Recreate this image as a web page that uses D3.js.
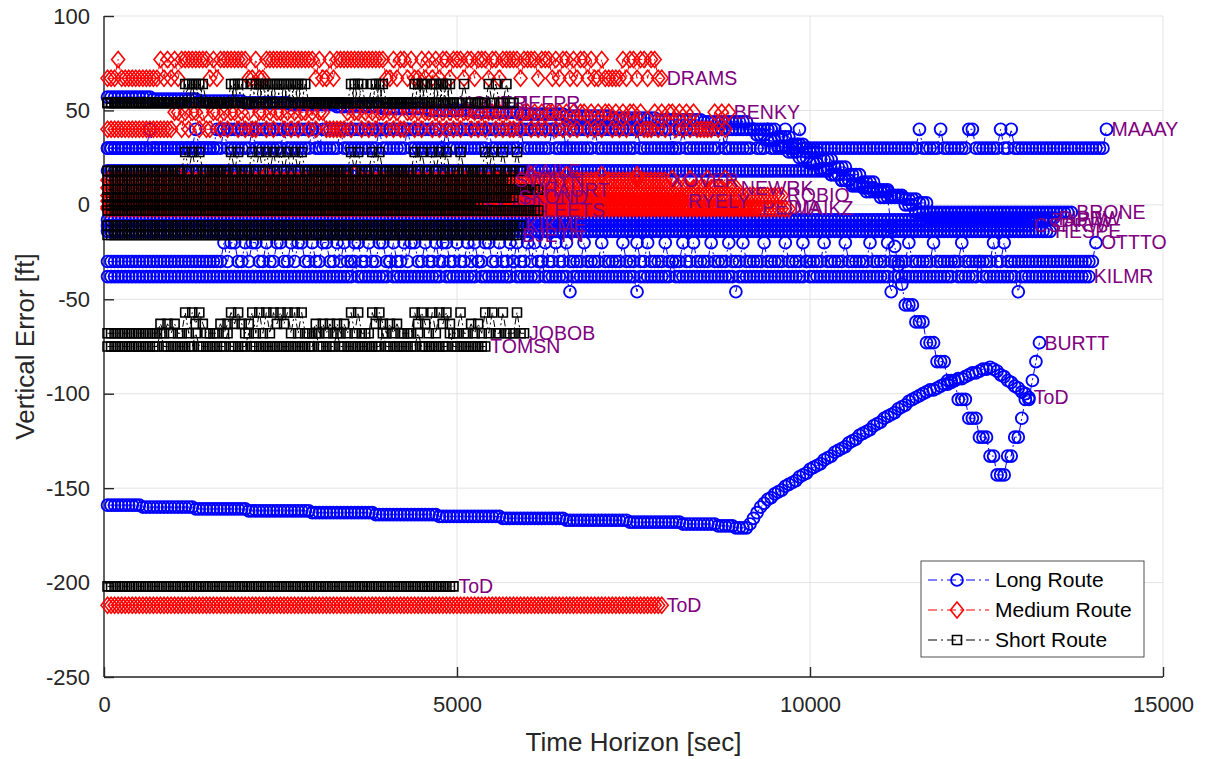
<!DOCTYPE html>
<html><head><meta charset="utf-8">
<script src="https://cdn.jsdelivr.net/npm/d3@7"></script>
<style>
body{margin:0;background:#fff}
svg{display:block}
text{font-family:"Liberation Sans",Arial,Helvetica,sans-serif}
</style>
</head><body>
<svg id="chart" width="1206" height="759"></svg>
<script>
// ---------------- DATA ----------------
const STEP = 50, T0 = 50;            // seconds between samples, first sample time
const xTicks = [0, 5000, 10000, 15000];
const yTicks = [100, 50, 0, -50, -100, -150, -200, -250];
const routeNames = ["Long Route", "Medium Route", "Short Route"];

// Long route (runs = [value, count], spikes = [index, value])
const longMAAAYRuns = [[30,284]];
const longMAAAYSpikes = [[12,40],[25,40],[33,40],[41,40],[50,40],[58,40],[66,40],[77,40],[85,40],[96,40],[108,40],[117,40],[126,40],[138,40],[150,40],[163,40],[174,40],[183,40],[187,40],[192,40],[196,40],[230,40],[236,40],[244,40],[245,40],[253,40],[256,40],[283,40]];
const longBURTTRuns = [[57,13],[56,13],[55,13],[54,13],[53,13],[52,13],[51,13],[50,13],[49,13],[48,13],[47,13],[46,13],[45,13],[44,13],
  [40,2],[37,3],[34,3],[31,3],[28,3],[25,3],[22,3],[19,3],[16,3],[13,3],[10,4],[7,4],[4,3],
  [-12,1],[-22,1],[-32,1],[-42,1],[-53,3],[-62,3],[-73,3],[-83,3],[-93,3],[-103,3],[-113,3],[-123,3],[-133,2],[-143,3],
  [-133,2],[-123,2],[-113,1],[-103,2],[-93,1],[-83,1],[-73,1]];
const longBRONERuns = [[30,31],[40,159],[36,4],[32,4],[28,4],[24,4],[20,4],[16,4],[12,4],[8,4],[4,4],[0,3],[-4,45]];
const longBRONESpikes = [[60,30],[95,30],[130,30],[160,30],[175,30]];
const longPIPBWRuns = [[18,205],[16,3],[13,3],[11,3],[9,4],[7,4],[5,4],[3,4],[1,3],[-7,36]];
const longZAPIWRuns = [[-8,267]];
const longCSPRWRuns = [[-11,262]];
const longHESPERuns = [[-14,268]];
const longOTTTORuns = [[-30,281]];
const longOTTTOSpikeIdx = [33,35,36,39,41,42,45,48,49,52,54,55,58,61,62,65,67,70,71,74,77,78,81,84,86,87,90,93,95,96,99,102,104,107,108,111,114,116,119,121,124,127,130,135,140,146,150,153,158,163,166,171,176,180,186,192,197,203,209,216,221,227,234,242,251,254,280];
const longKILMRRuns = [[-38,279]];
const longKILMRSpikes = [[70,-30],[80,-30],[95,-30],[105,-30],[115,-30],[123,-30],[131,-46],[150,-46],[160,-30],[178,-46],[198,-30],[222,-46],[240,-30],[247,-30],[258,-46]];
const longToDRuns = [[-159,10],[-160,15],[-161,15],[-162,18],[-163,18],[-164,18],[-165,18],[-166,18],[-167,18],[-168,15],[-169,10],[-170,5],[-171,4]];
const longToDRise = [-169,-166,-163,-160,-158,-156,-155,-153,-152,-151,-149,-148,-147,-146,-144,-143,-142,-140,-139,-138,-137,-135,-134,-133,-131,-130,-129,-128,-126,-125,-124,-122,-121,-120,-119,-117,-116,-115,-113,-112,-111,-110,-108,-107,-106,-104,-103,-102,-101,-100,
  -99,-98,-98,-97,-96,-95,-95,-94,-93,-92,-92,-91,-90,-89,-89,-88,-87,-87,-86,
  -87,-88,-90,-91,-93,-94,-96,-97,-99,-100,-102];

// Medium route
const medDRAMSLevels = {L:67, H:77};
const medDRAMSPattern = ["LLLHLLLLLLLLLLL","HLHLHLH","HHHHHHH","LHL","HHHHHHHH","LLHLL","HHHHHHHHHHHHHH","LHLLHL","HHHHHHHHHHHHHH","LLHL","HH","LHLLHLHL","HLHHLHHHLHHLHHHLHHLH","HHHHLHHHHLHHH","LHLHHLHLHHLHLLHL","LLLL","HLHHLHHLHHLL"].join("");
const medBENKYLevels = {L:40, H:49};
const medBENKYPattern = ["LLLLLLLLLLLLLLLLLLL","HHLHLHHLHLLHHLHLHHLHLHLLHHLHLHHLHLHLHHLHLHHL","LLLLL","HLHHLHLHLHHLHLHLLHHLHLHHLHLHLH","LHLHHLHLHLHHLHLHLLHLHHLHLHLHHLH","L","HLHLHHLHLHLHHLHLHLHHLHL","LL","HLHLHHLHLHLHLLLLLHLHLH"].join("");
const medXOVERRuns = [[13,159]];
const medXOVERSpikes = [[20,16],[45,16],[70,16],[100,16],[120,16],[130,16],[140,16],[150,16]];
const medNEWRKRuns = [[9,179]];
const medNEWRKSpikes = [[60,14],[110,14],[150,14],[160,14],[165,14],[170,14],[175,14]];
const medROBIORuns = [[5,192]];
const medRYELYRuns = [[2,164]];
const medPEDIARuns = [[-1,185]];
const medMAIKZRuns = [[-2,194]];
const medToDRuns = [[-212,158]];

// Short route (sample indices where the short-route errors jump up)
const shortNoiseA = [22,24,26,35,37,41,43,45,47,49,51,53,55,69,71,75,77,87,89,92,94,96,100,107,109,112,116];
const shortNoiseB = [15,17,19,25,27,32,34,36,38,40,48,50,59,61,63,65,67,76,78,80,82,88,90,95,97,103,105];
const shortXOVERRuns = [[54,99]];
const shortJEFPRRuns = [[54,116]];
const shortKAILERuns = [[18,118]];
const shortSWAYNRuns = [[13,115]];
const shortHAURTRuns = [[8,123]];
const shortSKONDRuns = [[4,116]];
const shortSKARLRuns = [[0,106]];
const shortLEETSRuns = [[-3,123]];
const shortKIKMERuns = [[-11,118]];
const shortBJETNRuns = [[-16,117]];
const shortJOBOBRuns = [[-68,119]];
const shortTOMSNRuns = [[-75,108]];
const shortToDRuns = [[-202,99]];

// ---------------- BUILD ----------------
function fromRuns(runs){ const v=[]; runs.forEach(([val,n])=>{ for(let i=0;i<n;i++) v.push(val); }); return v; }
function fromPattern(p, lv){ return p.split("").map(c=>lv[c]); }
function withSpikes(v, sp){ (sp||[]).forEach(([i,val])=>{ if(i<v.length) v[i]=val; }); return v; }
function withJumps(v, idx, delta){ idx.forEach(i=>{ if(i<v.length-1) v[i]=v[i]+delta; }); return v; }

// under: label drawn right after its own marks (can be covered); otherwise labels go on top
const series = [
  // long
  {r:0, label:"MAAAY", v: withSpikes(fromRuns(longMAAAYRuns), longMAAAYSpikes)},
  {r:0, label:"BURTT", v: fromRuns(longBURTTRuns)},
  {r:0, label:"PIPBW", v: fromRuns(longPIPBWRuns)},
  {r:0, label:"ZAPIW", v: fromRuns(longZAPIWRuns)},
  {r:0, label:"CSPRW", v: fromRuns(longCSPRWRuns)},
  {r:0, label:"BRONE", v: withSpikes(fromRuns(longBRONERuns), longBRONESpikes)},
  {r:0, label:"HESPE", v: fromRuns(longHESPERuns)},
  {r:0, label:"OTTTO", v: withSpikes(fromRuns(longOTTTORuns), longOTTTOSpikeIdx.map(i=>[i,-20]))},
  {r:0, label:"KILMR", v: withSpikes(fromRuns(longKILMRRuns), longKILMRSpikes)},
  {r:0, label:"ToD",   v: fromRuns(longToDRuns).concat(longToDRise)},
  // medium
  {r:1, label:"BENKY", v: fromPattern(medBENKYPattern, medBENKYLevels)},
  {r:1, label:"DRAMS", v: fromPattern(medDRAMSPattern, medDRAMSLevels)},
  {r:1, label:"MAIKZ", v: fromRuns(medMAIKZRuns), under:true},
  {r:1, label:"PEDIA", v: fromRuns(medPEDIARuns), under:true},
  {r:1, label:"ROBIO", v: fromRuns(medROBIORuns), under:true},
  {r:1, label:"NEWRK", v: withSpikes(fromRuns(medNEWRKRuns), medNEWRKSpikes)},
  {r:1, label:"RYELY", v: fromRuns(medRYELYRuns)},
  {r:1, label:"XOVER", v: withSpikes(fromRuns(medXOVERRuns), medXOVERSpikes)},
  {r:1, label:"ToD",   v: fromRuns(medToDRuns)},
  // short
  {r:2, label:"XOVER", v: withJumps(fromRuns(shortXOVERRuns), shortNoiseA, 10), under:true},
  {r:2, label:"JEFPR", v: withJumps(fromRuns(shortJEFPRRuns), shortNoiseA.map(i=>i+1), 10)},
  {r:2, label:"KAILE", v: withJumps(fromRuns(shortKAILERuns), shortNoiseA, 10)},
  {r:2, label:"SKARL", v: fromRuns(shortSKARLRuns), under:true},
  {r:2, label:"HAURT", v: fromRuns(shortHAURTRuns)},
  {r:2, label:"SWAYN", v: fromRuns(shortSWAYNRuns)},
  {r:2, label:"SKOND", v: fromRuns(shortSKONDRuns)},
  {r:2, label:"LEETS", v: fromRuns(shortLEETSRuns)},
  {r:2, label:"KIKME", v: fromRuns(shortKIKMERuns)},
  {r:2, label:"BJETN", v: fromRuns(shortBJETNRuns)},
  {r:2, label:"JOBOB", v: withJumps(withJumps(fromRuns(shortJOBOBRuns), shortNoiseA, 11), shortNoiseB.filter(i=>!shortNoiseA.includes(i)), 5)},
  {r:2, label:"TOMSN", v: withJumps(fromRuns(shortTOMSNRuns), shortNoiseB.filter((d,i)=>i%3===0), 7)},
  {r:2, label:"ToD",   v: fromRuns(shortToDRuns)}
];

// ---------------- DRAW ----------------
const W = 1206, H = 759;
const plot = {l:104, r:1163, t:16, b:677};
const x = d3.scaleLinear().domain([0,15000]).range([plot.l, plot.r]);
const y = d3.scaleLinear().domain([-250,100]).range([plot.b, plot.t]);
const svg = d3.select("#chart");
svg.append("rect").attr("width",W).attr("height",H).attr("fill","#fff");

const colors = ["#0000ff","#ff0000","#000000"];
const shapes = [
  "M5.9,0A5.9,5.9 0 1,1 -5.9,0A5.9,5.9 0 1,1 5.9,0Z",
  "M0,-8L6.5,0L0,8L-6.5,0Z",
  "M-4.5,-4.5H4.5V4.5H-4.5Z"
];
const strokeW = [1.9, 1.6, 1.6];
const axisColor = "#262626";
const labelColor = "#800080";

// grid
const g = svg.append("g");
g.selectAll(".gx").data(xTicks).join("line")
  .attr("x1",d=>x(d)).attr("x2",d=>x(d)).attr("y1",plot.t).attr("y2",plot.b)
  .attr("stroke","#e3e3e3").attr("stroke-width",1);
g.selectAll(".gy").data(yTicks).join("line")
  .attr("x1",plot.l).attr("x2",plot.r).attr("y1",d=>y(d)).attr("y2",d=>y(d))
  .attr("stroke","#e3e3e3").attr("stroke-width",1);

// axes (d3 axes with inner ticks)
const yAxis = d3.axisLeft(y).tickValues(yTicks).tickSize(-10).tickPadding(14).tickFormat(d=>String(d));
const xAxis = d3.axisBottom(x).tickValues(xTicks).tickSize(-10).tickPadding(19).tickFormat(d=>String(d));
const ya = svg.append("g").attr("transform",`translate(${plot.l},0)`).call(yAxis);
const xa = svg.append("g").attr("transform",`translate(0,${plot.b})`).call(xAxis);
[ya,xa].forEach(a=>{
  a.select(".domain").attr("stroke",axisColor).attr("stroke-width",1.4);
  a.selectAll(".tick line").attr("stroke",axisColor).attr("stroke-width",1.4);
  a.selectAll(".tick text").attr("fill",axisColor).attr("font-size",22)
    .attr("font-family",'"Liberation Sans",Arial,sans-serif');
});
ya.select(".domain").attr("d",`M0,${plot.t}V${plot.b}`);
xa.select(".domain").attr("d",`M${plot.l},0H${plot.r}`);

// series
const line = d3.line().x(d=>x(d.t)).y(d=>y(d.v));
const dataLayer = svg.append("g");
const topLabels = [];
series.forEach(s=>{
  const pts = s.v.map((val,i)=>({t:T0+i*STEP, v:val}));
  const c = colors[s.r];
  const sg = dataLayer.append("g");
  sg.append("path").datum(pts).attr("d",line).attr("fill","none")
    .attr("stroke",c).attr("stroke-width",1).attr("stroke-dasharray","7,3,2,3");
  sg.selectAll("path.m").data(pts).join("path").attr("class","m")
    .attr("d",shapes[s.r]).attr("transform",d=>`translate(${x(d.t)},${y(d.v)})`)
    .attr("fill","none").attr("stroke",c).attr("stroke-width",strokeW[s.r]);
  const last = pts[pts.length-1];
  const lab = {x:x(last.t)+5, y:y(last.v), text:s.label};
  if (s.under) {
    sg.append("text").attr("x",lab.x).attr("y",lab.y).attr("dy","0.35em")
      .attr("fill",labelColor).attr("font-size",19.5).text(lab.text);
  } else topLabels.push(lab);
});
svg.append("g").selectAll("text").data(topLabels).join("text")
  .attr("x",d=>d.x).attr("y",d=>d.y).attr("dy","0.35em")
  .attr("fill",labelColor).attr("font-size",19.5).text(d=>d.text);

// axis titles
svg.append("text").attr("x",(plot.l+plot.r)/2).attr("y",751).attr("text-anchor","middle")
  .attr("fill",axisColor).attr("font-size",26).text("Time Horizon [sec]");
svg.append("text").attr("transform",`translate(34,${(plot.t+plot.b)/2}) rotate(-90)`)
  .attr("text-anchor","middle").attr("fill",axisColor).attr("font-size",26).text("Vertical Error [ft]");

// legend
const lg = svg.append("g").attr("transform","translate(921,561)");
lg.append("rect").attr("width",223).attr("height",96).attr("fill","#fff")
  .attr("stroke",axisColor).attr("stroke-width",0.8);
routeNames.forEach((name,i)=>{
  const yy = 19 + i*30;
  const row = lg.append("g").attr("transform",`translate(0,${yy})`);
  row.append("line").attr("x1",7).attr("x2",68).attr("y1",0).attr("y2",0)
    .attr("stroke",colors[i]).attr("stroke-width",1.2).attr("stroke-dasharray","9,4,2,4");
  row.append("path").attr("d",shapes[i]).attr("transform","translate(36,0)")
    .attr("fill","none").attr("stroke",colors[i]).attr("stroke-width",strokeW[i]);
  row.append("text").attr("x",74).attr("y",0).attr("dy","0.35em").attr("font-size",21)
    .attr("fill","#000").text(name);
});
</script>
</body></html>
